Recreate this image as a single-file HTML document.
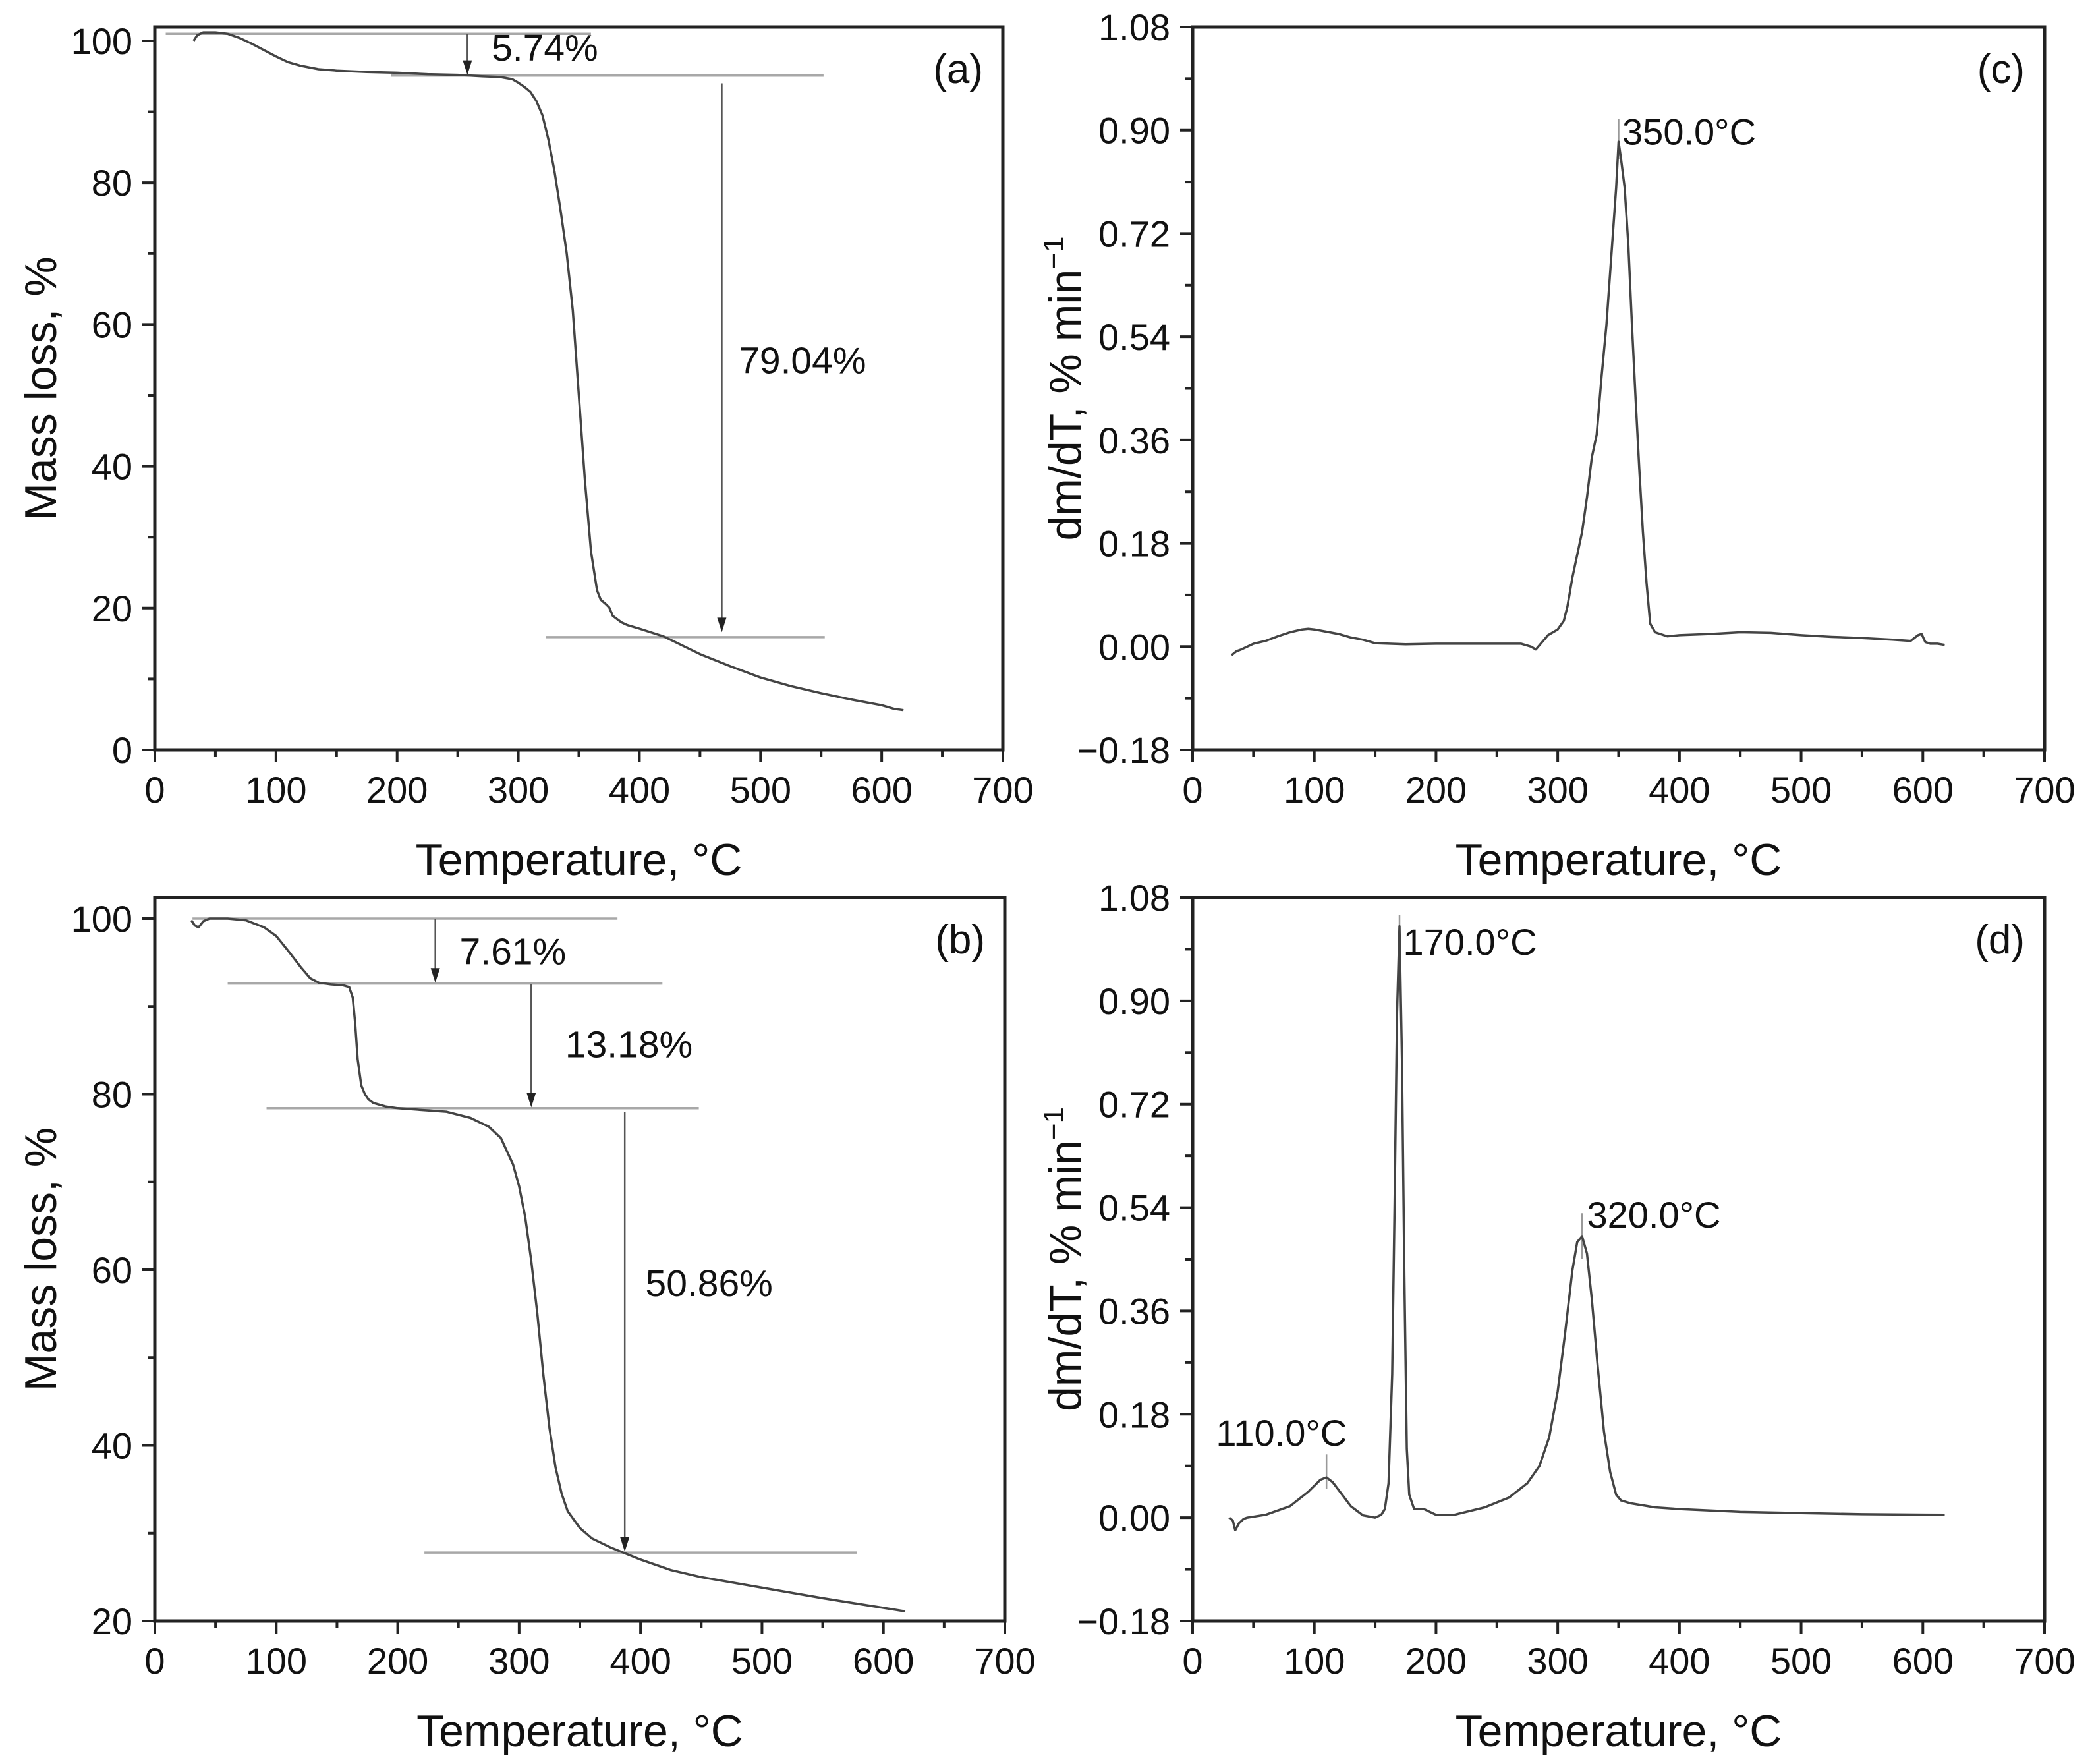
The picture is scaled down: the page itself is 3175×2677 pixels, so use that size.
<!DOCTYPE html>
<html><head><meta charset="utf-8"><style>
html,body{margin:0;padding:0;background:#fff}
svg{display:block;font-family:"Liberation Sans",Arial,sans-serif}
</style></head><body>
<svg id="fig" width="3175" height="2677" viewBox="0 0 3175 2677" xmlns="http://www.w3.org/2000/svg"></svg>
<script>
// ---- data ----
const tgaA_T = [32,35,40,50,60,70,80,90,100,110,120,135,150,175,200,225,250,270,285,295,300,305,310,315,320,325,330,335,340,345,350,355,360,365,368,372,375,378,385,390,400,420,450,475,500,525,550,575,600,610,618];
const tgaA_M = [100.0,100.8,101.2,101.2,101.0,100.4,99.6,98.7,97.8,97.0,96.5,96.0,95.8,95.6,95.5,95.3,95.2,95.0,94.9,94.6,94.1,93.5,92.8,91.5,89.5,86.0,81.5,76.0,70.0,62.0,50.0,38.0,28.0,22.5,21.2,20.6,20.1,18.9,18.0,17.6,17.1,16.0,13.5,11.8,10.2,9.0,8.0,7.1,6.3,5.8,5.6];
const dtgC_T = [32,36,40,50,60,70,80,90,95,100,110,120,130,140,150,175,200,225,250,270,278,282,288,292,300,305,308,312,316,320,324,328,332,336,340,344,348,350,352,355,358,361,364,367,370,373,376,380,390,400,425,450,475,500,525,550,575,590,596,599,602,606,612,618];
const dtgC_V = [-0.015,-0.008,-0.005,0.005,0.010,0.018,0.025,0.030,0.031,0.030,0.026,0.022,0.016,0.012,0.006,0.004,0.005,0.005,0.005,0.005,0.000,-0.005,0.010,0.020,0.030,0.045,0.070,0.120,0.160,0.200,0.260,0.330,0.370,0.470,0.560,0.680,0.800,0.880,0.850,0.800,0.700,0.560,0.430,0.310,0.200,0.110,0.040,0.025,0.018,0.020,0.022,0.025,0.024,0.020,0.017,0.015,0.012,0.010,0.020,0.022,0.008,0.005,0.005,0.003];
const tgaB_T = [30,33,36,40,45,60,75,90,100,110,120,128,135,145,155,160,163,165,167,170,173,176,180,190,200,220,240,260,275,285,295,300,305,310,315,320,325,330,335,340,350,360,375,400,425,450,500,550,600,618];
const tgaB_M = [99.8,99.2,99.0,99.7,100.0,100.0,99.8,99.0,98.0,96.3,94.5,93.2,92.7,92.5,92.4,92.2,91.0,88.0,84.0,81.0,80.0,79.4,79.0,78.6,78.4,78.2,78.0,77.3,76.3,75.0,72.0,69.5,66.0,61.0,55.0,48.0,42.0,37.5,34.5,32.5,30.6,29.4,28.4,27.0,25.8,25.0,23.8,22.6,21.5,21.1];
const dtgD_T = [30,33,35,38,42,45,60,80,95,105,110,115,120,130,140,150,155,158,161,164,166,168,170,172,174,176,178,182,190,200,215,240,260,275,285,293,300,306,312,316,320,324,328,333,338,343,348,352,360,380,400,450,500,550,618];
const dtgD_V = [0.000,-0.005,-0.022,-0.010,-0.002,0.000,0.005,0.020,0.045,0.066,0.070,0.062,0.048,0.020,0.004,0.000,0.005,0.015,0.060,0.250,0.550,0.880,1.030,0.800,0.420,0.120,0.040,0.015,0.015,0.005,0.005,0.018,0.035,0.060,0.090,0.140,0.220,0.320,0.430,0.480,0.490,0.460,0.380,0.260,0.150,0.080,0.040,0.030,0.025,0.018,0.015,0.010,0.008,0.006,0.005];
const xTicks = [0,100,200,300,400,500,600,700];
const yTicksA = [0,20,40,60,80,100];
const yTicksB = [20,40,60,80,100];
const yTicksD = [-0.18,0,0.18,0.36,0.54,0.72,0.90,1.08];

const NS="http://www.w3.org/2000/svg";
const svg=document.getElementById('fig');
function mk(tag,attrs,parent){const e=document.createElementNS(NS,tag);for(const k in attrs)e.setAttribute(k,attrs[k]);(parent||svg).appendChild(e);return e;}

function panel(p){
  const g=mk('g',{});
  
  
  const X=t=>p.L+(t-0)/(700-0)*(p.R-p.L);
  const Y=v=>p.B-(v-p.ymin)/(p.ymax-p.ymin)*(p.B-p.T);
  for(let t=50;t<700;t+=100){const e=mk('line',{x1:X(t),x2:X(t),y1:p.B,y2:p.B+11,stroke:'#222','stroke-width':4},g);}
  for(let i=0;i<p.yticks.length-1;i++){const v=(p.yticks[i]+p.yticks[i+1])/2;const e=mk('line',{x1:p.L-11,x2:p.L,y1:Y(v),y2:Y(v),stroke:'#222','stroke-width':4},g);}
  xTicks.forEach(t=>{
    const l=mk('line',{x1:X(t),x2:X(t),y1:p.B,y2:p.B+19,stroke:'#222','stroke-width':4},g);
    
    const tx=mk('text',{x:X(t),y:p.B+80,'font-size':56,'text-anchor':'middle',fill:'#111'},g);
    tx.textContent=t;
    
  });
  p.yticks.forEach(v=>{
    const l=mk('line',{x1:p.L-19,x2:p.L,y1:Y(v),y2:Y(v),stroke:'#222','stroke-width':4},g);
    
    const tx=mk('text',{x:p.L-34,y:Y(v)+20,'font-size':56,'text-anchor':'end',fill:'#111'},g);
    tx.textContent=p.fmt(v);
    
  });
  (p.guides||[]).forEach(gd=>{
    const e=mk('line',{x1:X(gd[0]),x2:X(gd[1]),y1:Y(gd[2]),y2:Y(gd[2]),stroke:'#a8a8a8','stroke-width':3.5},g);
    
  });
  (p.arrows||[]).forEach(a=>{
    const x=X(a[0]),y1=Y(a[1]),y2=Y(a[2]);
    const e=mk('line',{x1:x,x2:x,y1:y1,y2:y2-18,stroke:'#555','stroke-width':2.5},g);
    
    const h=mk('polygon',{points:`${x-7},${y2-22} ${x+7},${y2-22} ${x},${y2}`,fill:'#222'},g);
    
  });
  (p.markers||[]).forEach(m=>{
    const e=mk('line',{x1:X(m[0]),x2:X(m[0]),y1:Y(m[1]),y2:Y(m[2]),stroke:'#999','stroke-width':2.5},g);
    
  });
  const d=p.xs.map((t,i)=>(i?'L':'M')+X(t).toFixed(1)+','+Y(p.ys[i]).toFixed(1)).join(' ');
  const c=mk('path',{d:d,fill:'none',stroke:'#444','stroke-width':3.5,'stroke-linejoin':'round'},g);
  
  const f=mk('rect',{x:p.L,y:p.T,width:p.R-p.L,height:p.B-p.T,fill:'none',stroke:'#222','stroke-width':5},g);
  
  (p.labels||[]).forEach(lb=>{
    const tx=mk('text',{x:X(lb[0]),y:Y(lb[1]),'font-size':lb[3]||52,'text-anchor':lb[4]||'start',fill:'#111'},g);
    tx.textContent=lb[2];
    
  });
  const pl=mk('text',{x:p.R-30,y:p.T+85,'font-size':62,'text-anchor':'end',fill:'#111'},g);
  pl.textContent='('+p.id+')';
  
  const xt=mk('text',{x:(p.L+p.R)/2,y:p.B+190,'font-size':68,'text-anchor':'middle',fill:'#111'},g);
  xt.textContent='Temperature, °C';
  
  const yc=(p.T+p.B)/2, yx=p.L-p.ytitleOff;
  const yt=mk('text',{x:yx,y:yc,'font-size':68,'text-anchor':'middle',fill:'#111',transform:`rotate(-90 ${yx} ${yc})`},g);
  if(p.dtg){yt.textContent='dm/dT, % min';const s=mk('tspan',{'font-size':44,dy:-26},yt);s.textContent='−1';}
  else yt.textContent='Mass loss, %';
  
}
const f0=v=>String(v);
const f2=v=>(v<0?'−':'')+Math.abs(v).toFixed(2);
panel({id:'a',L:235,R:1522,T:41,B:1138,ymin:0,ymax:101.95,yticks:yTicksA,fmt:f0,xs:tgaA_T,ys:tgaA_M,curveName:'tga-curve-a',ytitleOff:150,
  guides:[[9,360,101],[195,552,95.1],[323,553,15.9]],arrows:[[258,101,95.2],[468,94,16.6]],
  labels:[[278,97.2,'5.74%',57],[482,53.1,'79.04%',57]]});
panel({id:'c',L:1810,R:3103,T:41,B:1138,ymin:-0.18,ymax:1.08,yticks:yTicksD,fmt:f2,xs:dtgC_T,ys:dtgC_V,curveName:'dtg-curve-c',ytitleOff:170,dtg:true,
  markers:[[350,0.85,0.92]],labels:[[353,0.875,'350.0°C',56]]});
panel({id:'b',L:235,R:1525,T:1362,B:2460,ymin:20,ymax:102.4,yticks:yTicksB,fmt:f0,xs:tgaB_T,ys:tgaB_M,curveName:'tga-curve-b',ytitleOff:150,
  guides:[[31,381,100],[60,418,92.6],[92,448,78.4],[222,578,27.8]],arrows:[[231,100,92.7],[310,92.5,78.5],[387,78,27.9]],
  labels:[[251,94.8,'7.61%',57],[338,84.2,'13.18%',57],[404,57,'50.86%',57]]});
panel({id:'d',L:1810,R:3103,T:1362,B:2460,ymin:-0.18,ymax:1.08,yticks:yTicksD,fmt:f2,xs:dtgD_T,ys:dtgD_V,curveName:'dtg-curve-d',ytitleOff:170,dtg:true,
  markers:[[110,0.05,0.11],[170,0.95,1.05],[320,0.45,0.53]],
  labels:[[173,0.98,'170.0°C',56],[324,0.505,'320.0°C',56],[73,0.125,'110.0°C',56,'middle']]});
</script>
</body></html>
